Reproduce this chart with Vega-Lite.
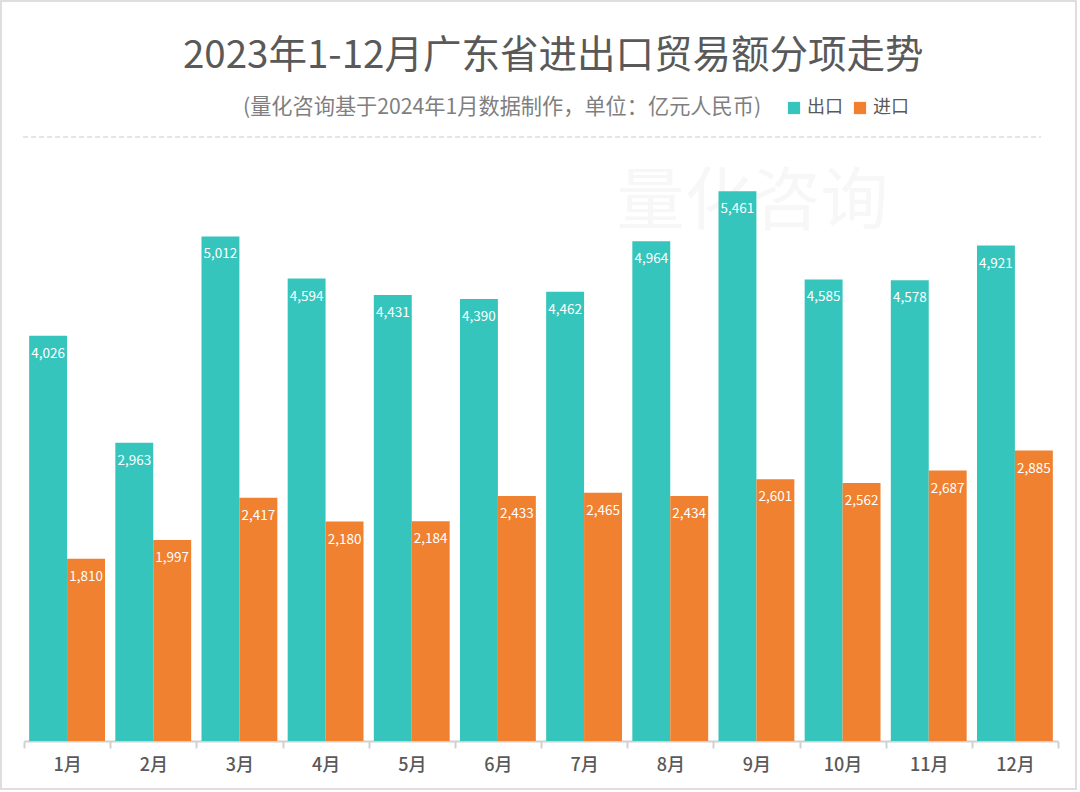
{
  "$schema": "https://vega.github.io/schema/vega-lite/v6.json",
  "description": "2023 Guangdong monthly exports and imports",
  "width": 1075,
  "height": 788,
  "autosize": "none",
  "padding": {"left": 1, "top": 1, "right": 4, "bottom": 3},
  "background": "white",
  "view": {"stroke": "#dedede", "strokeWidth": 2, "fill": "white"},
  "config": {"font": "Noto Sans CJK SC"},
  "title": {
    "text": "2023年1-12月广东省进出口贸易额分项走势",
    "anchor": "start",
    "frame": "group",
    "dx": 182,
    "offset": -75,
    "fontSize": 38.5,
    "fontWeight": "normal",
    "color": "#595959"
  },
  "datasets": {
    "trade": [
      {"month": "1月", "type": "出口", "value": 4026},
      {"month": "1月", "type": "进口", "value": 1810},
      {"month": "2月", "type": "出口", "value": 2963},
      {"month": "2月", "type": "进口", "value": 1997},
      {"month": "3月", "type": "出口", "value": 5012},
      {"month": "3月", "type": "进口", "value": 2417},
      {"month": "4月", "type": "出口", "value": 4594},
      {"month": "4月", "type": "进口", "value": 2180},
      {"month": "5月", "type": "出口", "value": 4431},
      {"month": "5月", "type": "进口", "value": 2184},
      {"month": "6月", "type": "出口", "value": 4390},
      {"month": "6月", "type": "进口", "value": 2433},
      {"month": "7月", "type": "出口", "value": 4462},
      {"month": "7月", "type": "进口", "value": 2465},
      {"month": "8月", "type": "出口", "value": 4964},
      {"month": "8月", "type": "进口", "value": 2434},
      {"month": "9月", "type": "出口", "value": 5461},
      {"month": "9月", "type": "进口", "value": 2601},
      {"month": "10月", "type": "出口", "value": 4585},
      {"month": "10月", "type": "进口", "value": 2562},
      {"month": "11月", "type": "出口", "value": 4578},
      {"month": "11月", "type": "进口", "value": 2687},
      {"month": "12月", "type": "出口", "value": 4921},
      {"month": "12月", "type": "进口", "value": 2885}
    ]
  },
  "encoding": {
    "x": {
      "field": "month",
      "type": "nominal",
      "title": null,
      "scale": {
        "domain": ["1月", "2月", "3月", "4月", "5月", "6月", "7月", "8月", "9月", "10月", "11月", "12月"],
        "range": [23, 1057],
        "paddingInner": 0,
        "paddingOuter": 0
      },
      "axis": {
        "orient": "bottom",
        "offset": -48,
        "labelAngle": 0,
        "labelFontSize": 18,
        "labelFontWeight": 500,
        "labelColor": "#595959",
        "labelPadding": 8,
        "domainColor": "#d0d0d0",
        "domainWidth": 2,
        "tickColor": "#d0d0d0",
        "tickWidth": 2,
        "tickSize": 7,
        "tickBand": "extent"
      }
    },
    "y": {
      "field": "value",
      "type": "quantitative",
      "scale": {"domain": [0, 6000], "range": [740, 136]},
      "axis": null
    }
  },
  "layer": [
    {
      "data": {"values": [{"label": "量化咨询", "month": "9月", "value": 5330}]},
      "mark": {"type": "text", "fontSize": 68, "color": "#f7f7f7", "baseline": "middle", "dx": -4},
      "encoding": {"text": {"field": "label"}}
    },
    {
      "data": {"values": [{"value": 6000}]},
      "mark": {"type": "rule", "color": "#dddddd", "strokeWidth": 1.5, "strokeDash": [5, 3], "xOffset": -44, "x2Offset": 26},
      "encoding": {
        "x": {"datum": "1月"},
        "x2": {"datum": "12月"}
      }
    },
    {
      "data": {"name": "trade"},
      "mark": {"type": "bar"},
      "encoding": {
        "xOffset": {"field": "type", "scale": {"domain": ["出口", "进口"], "paddingInner": 0, "paddingOuter": 0.136}},
        "color": {
          "field": "type",
          "type": "nominal",
          "scale": {"domain": ["出口", "进口"], "range": ["#36C5BC", "#EF8130"]},
          "legend": {
            "title": "(量化咨询基于2024年1月数据制作，单位：亿元人民币)",
            "titleOrient": "left",
            "titleFontSize": 21.2,
            "titleFontWeight": "normal",
            "titleColor": "#7f7f7f",
            "titleLimit": 600,
            "titlePadding": 23,
            "orient": "none",
            "direction": "horizontal",
            "legendX": 242,
            "legendY": 98,
            "symbolType": "square",
            "symbolSize": 150,
            "symbolOpacity": 1,
            "labelFontSize": 18,
            "labelColor": "#595959",
            "columnPadding": 8
          }
        }
      }
    },
    {
      "data": {"name": "trade"},
      "mark": {"type": "text", "color": "white", "fontSize": 13.5, "baseline": "middle", "dy": 18},
      "encoding": {
        "xOffset": {"field": "type", "scale": {"domain": ["出口", "进口"], "paddingInner": 0, "paddingOuter": 0.136}},
        "text": {"field": "value", "type": "quantitative", "format": ","}
      }
    }
  ]
}
